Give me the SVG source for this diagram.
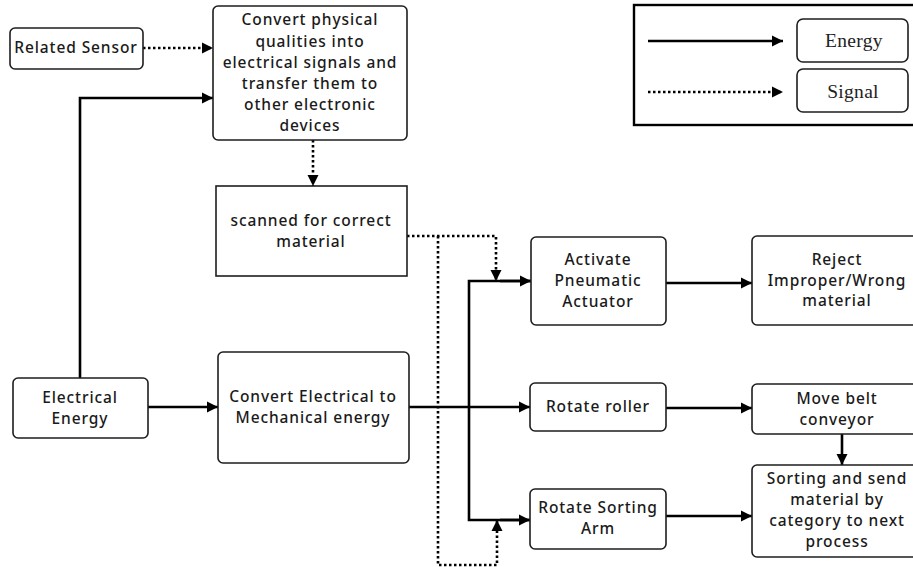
<svg xmlns="http://www.w3.org/2000/svg" width="913" height="567" viewBox="0 0 913 567">
<defs>
<style>
.box{fill:#fff;stroke:#1e1e1e;stroke-width:1.6}
.t{font-family:"Noto Sans","Liberation Sans",sans-serif;font-size:15.5px;font-weight:500;fill:#1a1a1a;text-anchor:middle;letter-spacing:0.9px}
.lt{font-family:"Liberation Serif",serif;font-size:19.5px;fill:#222;text-anchor:middle;letter-spacing:0.3px}
.e{fill:none;stroke:#000;stroke-width:2.6}
.s{fill:none;stroke:#000;stroke-width:2.6;stroke-dasharray:2.5 2.5}
</style>
<marker id="ah" viewBox="0 0 10 10" refX="10" refY="5" markerWidth="11" markerHeight="12" markerUnits="userSpaceOnUse" orient="auto">
<path d="M0,0 L10,5 L0,10 z" fill="#000"/>
</marker>
</defs>
<rect width="913" height="567" fill="#fff"/>

<g id="legend">
<rect x="634" y="5" width="284" height="120" fill="#fff" stroke="#000" stroke-width="2.4"/>
<line x1="648" y1="41" x2="783" y2="41" class="e" marker-end="url(#ah)"/>
<line x1="648" y1="92" x2="783" y2="92" class="s" marker-end="url(#ah)"/>
<rect x="797" y="19" width="111" height="43" rx="6" class="box"/>
<text x="854" y="47" class="lt">Energy</text>
<rect x="797" y="69" width="111" height="43" rx="6" class="box"/>
<text x="853" y="98" class="lt">Signal</text>
</g>

<g id="connectors">
<line x1="143" y1="48" x2="213" y2="48" class="s" marker-end="url(#ah)"/>
<polyline points="80,378 80,98 213,98" class="e" marker-end="url(#ah)"/>
<line x1="313" y1="140" x2="313" y2="186" class="s" marker-end="url(#ah)"/>
<line x1="148" y1="407" x2="218" y2="407" class="e" marker-end="url(#ah)"/>
<line x1="409" y1="407" x2="530" y2="407" class="e" marker-end="url(#ah)"/>
<polyline points="531,281 469,281 469,520 530,520" class="e"/>
<line x1="500" y1="281" x2="531" y2="281" class="e" marker-end="url(#ah)"/>
<line x1="500" y1="520" x2="530" y2="520" class="e" marker-end="url(#ah)"/>
<polyline points="407,236 496,236 496,281" class="s" marker-end="url(#ah)"/>
<polyline points="438,236 438,565 497,565 497,520" class="s" marker-end="url(#ah)"/>
<line x1="666" y1="283" x2="752" y2="283" class="e" marker-end="url(#ah)"/>
<line x1="666" y1="408" x2="752" y2="408" class="e" marker-end="url(#ah)"/>
<line x1="842" y1="434" x2="842" y2="465" class="e" marker-end="url(#ah)"/>
<line x1="666" y1="516" x2="752" y2="516" class="e" marker-end="url(#ah)"/>
</g>

<g id="related-sensor">
<rect x="10" y="28" width="133" height="41" rx="5" class="box"/>
<text x="76" y="53" class="t">Related Sensor</text>
</g>

<g id="convert-physical">
<rect x="213" y="6" width="194" height="134" rx="5" class="box"/>
<text class="t"><tspan x="310" y="25">Convert physical</tspan><tspan x="310" y="47">qualities into</tspan><tspan x="310" y="68">electrical signals and</tspan><tspan x="310" y="89">transfer them to</tspan><tspan x="310" y="110">other electronic</tspan><tspan x="310" y="131">devices</tspan></text>
</g>

<g id="scanned">
<rect x="216" y="186" width="191" height="90" class="box"/>
<text class="t"><tspan x="311" y="226">scanned for correct</tspan><tspan x="311" y="247">material</tspan></text>
</g>

<g id="electrical-energy">
<rect x="13" y="378" width="135" height="60" rx="5" class="box"/>
<text class="t"><tspan x="80" y="403">Electrical</tspan><tspan x="80" y="424">Energy</tspan></text>
</g>

<g id="convert-electrical">
<rect x="218" y="352" width="191" height="111" rx="5" class="box"/>
<text class="t"><tspan x="313" y="402">Convert Electrical to</tspan><tspan x="313" y="423">Mechanical energy</tspan></text>
</g>

<g id="activate">
<rect x="531" y="237" width="135" height="88" rx="5" class="box"/>
<text class="t"><tspan x="598" y="265">Activate</tspan><tspan x="598" y="286">Pneumatic</tspan><tspan x="598" y="307">Actuator</tspan></text>
</g>

<g id="rotate-roller">
<rect x="530" y="383" width="136" height="48" rx="5" class="box"/>
<text x="598" y="412" class="t">Rotate roller</text>
</g>

<g id="rotate-arm">
<rect x="530" y="489" width="136" height="60" rx="5" class="box"/>
<text class="t"><tspan x="598" y="513">Rotate Sorting</tspan><tspan x="598" y="534">Arm</tspan></text>
</g>

<g id="reject">
<rect x="752" y="236" width="166" height="89" rx="5" class="box"/>
<text class="t"><tspan x="837" y="265">Reject</tspan><tspan x="837" y="286">Improper/Wrong</tspan><tspan x="837" y="306">material</tspan></text>
</g>

<g id="move-belt">
<rect x="752" y="384" width="166" height="50" rx="5" class="box"/>
<text class="t"><tspan x="837" y="404">Move belt</tspan><tspan x="837" y="425">conveyor</tspan></text>
</g>

<g id="sorting">
<rect x="752" y="465" width="166" height="92" rx="5" class="box"/>
<text class="t"><tspan x="837" y="484">Sorting and send</tspan><tspan x="837" y="505">material by</tspan><tspan x="837" y="526">category to next</tspan><tspan x="837" y="547">process</tspan></text>
</g>
</svg>
